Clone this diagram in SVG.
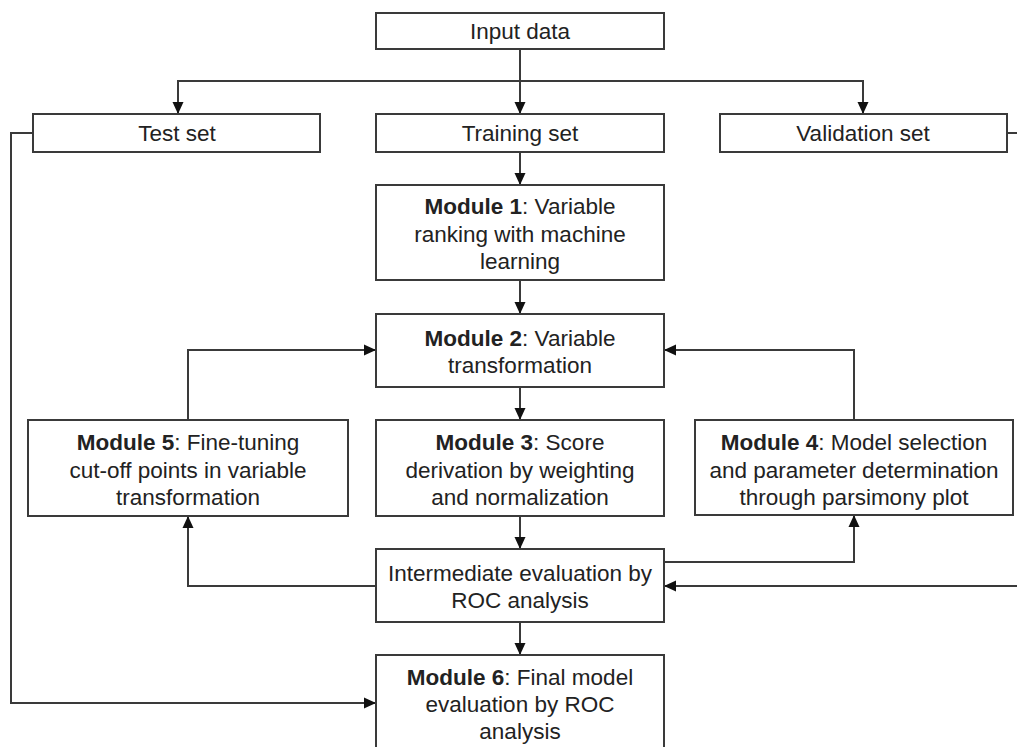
<svg xmlns="http://www.w3.org/2000/svg" width="1017" height="747" viewBox="0 0 1017 747">
  <style>
    .box { fill: #ffffff; stroke: #3a3a3a; stroke-width: 2; }
    .lbl { font-family: "Liberation Sans", Arial, sans-serif; font-size: 22.5px; fill: #222222; text-anchor: middle; }
    .b { font-weight: bold; }
    .conn { fill: none; stroke: #3a3a3a; stroke-width: 2; marker-end: url(#arrow); }
    .plain { fill: none; stroke: #3a3a3a; stroke-width: 2; }
  </style>
  <defs>
    <marker id="arrow" viewBox="0 0 12 12" refX="12" refY="6" markerWidth="12" markerHeight="12" markerUnits="userSpaceOnUse" orient="auto">
      <path d="M0,0.5 L12,6 L0,11.5 z" fill="#111111"/>
    </marker>
  </defs>
  <rect width="1017" height="747" fill="#ffffff"/>

  <g id="connectors">
    <path class="conn" d="M520,49 V114"/>
    <path class="conn" d="M520,81 H178 V114"/>
    <path class="conn" d="M520,81 H863 V114"/>
    <path class="conn" d="M520,152 V185"/>
    <path class="conn" d="M520,280 V314"/>
    <path class="conn" d="M520,387 V420"/>
    <path class="conn" d="M520,516 V549"/>
    <path class="conn" d="M520,622 V655"/>
    <path class="conn" d="M188,420 V350 H376"/>
    <path class="conn" d="M854,420 V350 H664"/>
    <path class="conn" d="M376,586 H188 V516"/>
    <path class="conn" d="M664,562 H854 V515"/>
    <path class="conn" d="M1007,133 H1030 V586 H664"/>
    <path class="conn" d="M33,133 H11 V703 H376"/>
  </g>

  <g id="input-data">
    <rect class="box" x="376" y="13" width="288" height="36"/>
    <text class="lbl" x="520" y="39">Input data</text>
  </g>
  <g id="test-set">
    <rect class="box" x="33" y="114" width="287" height="38"/>
    <text class="lbl" x="177" y="141">Test set</text>
  </g>
  <g id="training-set">
    <rect class="box" x="376" y="114" width="288" height="38"/>
    <text class="lbl" x="520" y="141">Training set</text>
  </g>
  <g id="validation-set">
    <rect class="box" x="720" y="114" width="287" height="38"/>
    <text class="lbl" x="863" y="141">Validation set</text>
  </g>
  <g id="module-1">
    <rect class="box" x="376" y="185" width="288" height="95"/>
    <text class="lbl" x="520" y="214"><tspan class="b">Module 1</tspan>: Variable</text>
    <text class="lbl" x="520" y="242">ranking with machine</text>
    <text class="lbl" x="520" y="269">learning</text>
  </g>
  <g id="module-2">
    <rect class="box" x="376" y="314" width="288" height="73"/>
    <text class="lbl" x="520" y="346"><tspan class="b">Module 2</tspan>: Variable</text>
    <text class="lbl" x="520" y="373">transformation</text>
  </g>
  <g id="module-5">
    <rect class="box" x="28" y="420" width="320" height="96"/>
    <text class="lbl" x="188" y="450"><tspan class="b">Module 5</tspan>: Fine-tuning</text>
    <text class="lbl" x="188" y="478">cut-off points in variable</text>
    <text class="lbl" x="188" y="505">transformation</text>
  </g>
  <g id="module-3">
    <rect class="box" x="376" y="420" width="288" height="96"/>
    <text class="lbl" x="520" y="450"><tspan class="b">Module 3</tspan>: Score</text>
    <text class="lbl" x="520" y="478">derivation by weighting</text>
    <text class="lbl" x="520" y="505">and normalization</text>
  </g>
  <g id="module-4">
    <rect class="box" x="695" y="420" width="318" height="95"/>
    <text class="lbl" x="854" y="450"><tspan class="b">Module 4</tspan>: Model selection</text>
    <text class="lbl" x="854" y="478">and parameter determination</text>
    <text class="lbl" x="854" y="505">through parsimony plot</text>
  </g>
  <g id="intermediate-evaluation">
    <rect class="box" x="376" y="549" width="288" height="73"/>
    <text class="lbl" x="520" y="581">Intermediate evaluation by</text>
    <text class="lbl" x="520" y="608">ROC analysis</text>
  </g>
  <g id="module-6">
    <rect class="box" x="376" y="655" width="288" height="110"/>
    <text class="lbl" x="520" y="685"><tspan class="b">Module 6</tspan>: Final model</text>
    <text class="lbl" x="520" y="712">evaluation by ROC</text>
    <text class="lbl" x="520" y="739">analysis</text>
  </g>
</svg>
